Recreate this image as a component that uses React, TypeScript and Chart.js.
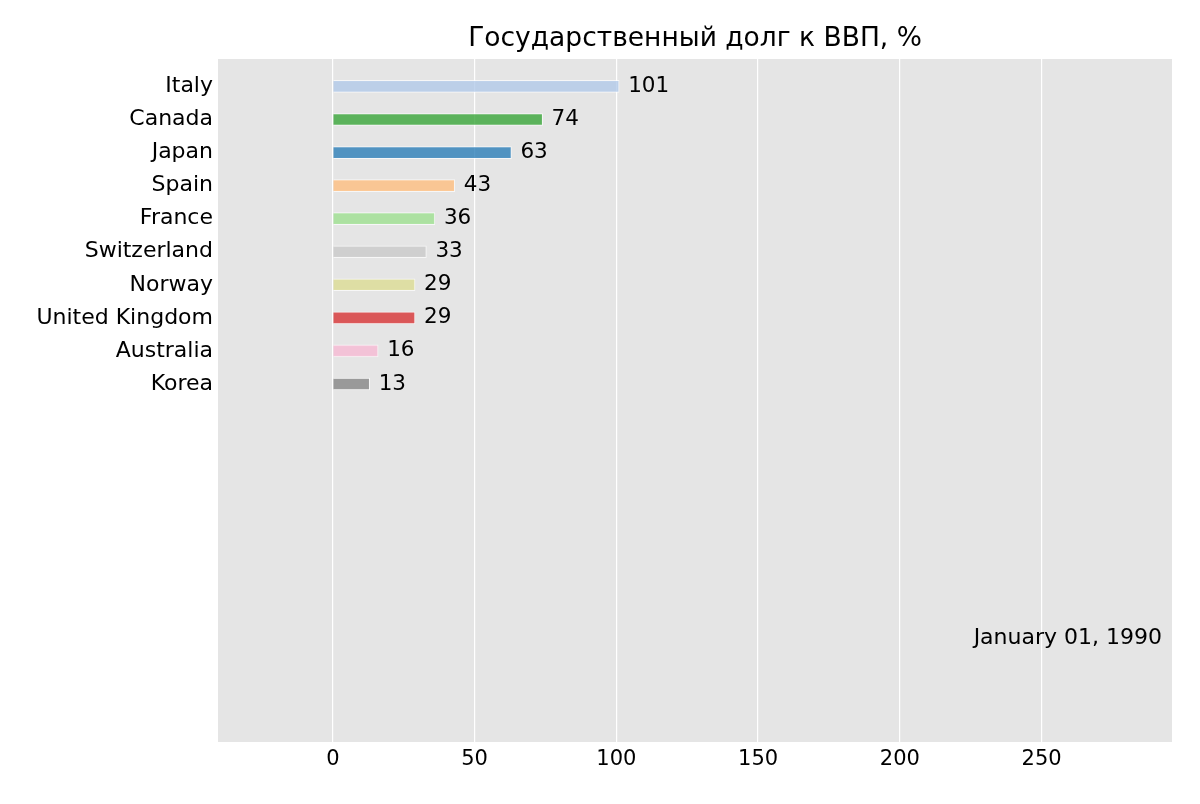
import React, { useEffect, useRef } from 'react';
import { Chart, registerables } from 'chart.js';

Chart.register(...registerables);

const countries = ['Italy', 'Canada', 'Japan', 'Spain', 'France', 'Switzerland', 'Norway', 'United Kingdom', 'Australia', 'Korea'];
const debtValues = [101, 74, 63, 43, 36, 33, 29, 29, 16, 13];
const barColors = ['#aec7e8', '#2ca02c', '#1f77b4', '#ffbb78', '#98df8a', '#c7c7c7', '#dbdb8d', '#d62728', '#f7b6d2', '#7f7f7f'];
const xTicks = [0, 50, 100, 150, 200, 250];
const titleText = 'Государственный долг к ВВП, %';
const dateText = 'January 01, 1990';

const FONT = "'DejaVu Sans', sans-serif";

function withAlpha(hex: string, a: number) {
  const r = parseInt(hex.slice(1, 3), 16);
  const g = parseInt(hex.slice(3, 5), 16);
  const b = parseInt(hex.slice(5, 7), 16);
  return `rgba(${r},${g},${b},${a})`;
}

const decorPlugin = {
  id: 'decor',
  beforeDraw(chart: any) {
    const { ctx, chartArea } = chart;
    ctx.save();
    ctx.fillStyle = '#ffffff';
    ctx.fillRect(0, 0, chart.width, chart.height);
    ctx.fillStyle = '#e5e5e5';
    ctx.fillRect(chartArea.left, chartArea.top, chartArea.right - chartArea.left, chartArea.bottom - chartArea.top);
    ctx.restore();
  },
  afterDatasetsDraw(chart: any) {
    const { ctx, chartArea } = chart;
    const meta = chart.getDatasetMeta(0);
    ctx.save();
    ctx.fillStyle = '#000000';
    ctx.font = `21.5px ${FONT}`;
    ctx.textAlign = 'left';
    ctx.textBaseline = 'middle';
    meta.data.forEach((bar: any, i: number) => {
      ctx.fillText(String(debtValues[i]), bar.x + 9, bar.y);
    });
    ctx.font = `22px ${FONT}`;
    ctx.textAlign = 'right';
    ctx.fillText(dateText, chartArea.right - 10, chart.scales.y.getPixelForValue(17.7));
    ctx.font = `26.5px ${FONT}`;
    ctx.textAlign = 'center';
    ctx.fillText(titleText, (chartArea.left + chartArea.right) / 2, 39);
    ctx.restore();
  },
};

export default function App() {
  const ref = useRef<HTMLCanvasElement | null>(null);
  useEffect(() => {
    if (!ref.current) return;
    const chart = new Chart(ref.current, {
      type: 'bar',
      data: {
        datasets: [
          {
            data: debtValues.map((v, i) => ({ x: v, y: i + 1 })),
            backgroundColor: barColors.map((c) => withAlpha(c, 0.75)),
            borderColor: 'rgba(255,255,255,0.7)',
            borderWidth: 1,
            barThickness: 12,
          },
        ],
      },
      options: {
        indexAxis: 'y',
        responsive: false,
        animation: false,
        layout: { padding: { top: 59, right: 28, left: 0, bottom: 0 } },
        plugins: { legend: { display: false }, tooltip: { enabled: false }, title: { display: false } },
        scales: {
          x: {
            type: 'linear',
            min: -40.5,
            max: 296,
            afterBuildTicks: (s: any) => {
              s.ticks = xTicks.map((v) => ({ value: v }));
            },
            afterFit: (s: any) => {
              s.height = 62;
            },
            grid: { color: '#ffffff', lineWidth: 1.2, drawTicks: false },
            border: { display: false },
            ticks: { color: '#000000', font: { family: FONT, size: 21 }, padding: 5 },
          },
          y: {
            type: 'linear',
            reverse: true,
            offset: false,
            min: 0.17,
            max: 20.83,
            afterBuildTicks: (s: any) => {
              s.ticks = countries.map((_, i) => ({ value: i + 1 }));
            },
            afterFit: (s: any) => {
              s.width = 218;
            },
            grid: { display: false, drawTicks: false },
            border: { display: false },
            ticks: {
              color: '#000000',
              font: { family: FONT, size: 22 },
              padding: 5,
              autoSkip: false,
              callback: (v: any) => countries[Number(v) - 1] ?? '',
            },
          },
        },
      },
      plugins: [decorPlugin],
    });
    return () => chart.destroy();
  }, []);
  return (
    <div style={{ position: 'fixed', left: 0, top: 0, width: 1200, height: 804, background: '#fff' }}>
      <canvas ref={ref} width={1200} height={804} style={{ width: 1200, height: 804, display: 'block' }} />
    </div>
  );
}
